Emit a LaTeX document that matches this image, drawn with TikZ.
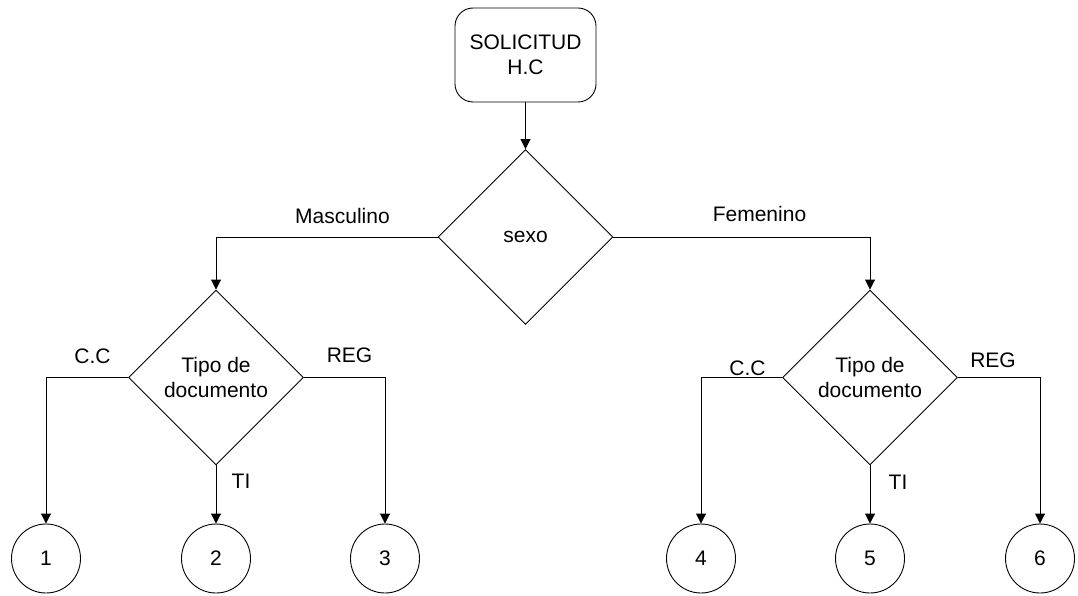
\documentclass[tikz,border=0pt]{standalone}
\usepackage{fontspec}
\setmainfont{Liberation Sans}
\usetikzlibrary{shapes.geometric,arrows.meta}
\begin{document}
\begin{tikzpicture}[x=1pt,y=-1pt,
  every node/.style={font=\fontsize{21}{25}\selectfont},
  base/.style={draw=black,line width=0.9pt},
  startbox/.style={base,rectangle,rounded corners=18pt,minimum width=141pt,minimum height=94pt,align=center,inner sep=0pt},
  decision/.style={base,diamond,minimum width=175pt,minimum height=175pt,inner sep=0pt,align=center},
  endpoint/.style={base,circle,minimum size=69pt,inner sep=0pt},
  flow/.style={line width=0.9pt,-{Triangle[length=10pt,width=10pt]}},
  lbl/.style={anchor=base,inner sep=0pt}]
\useasboundingbox (0,0) rectangle (1078,596);

% start and first decision
\node[startbox] (start) at (525.5,55) {SOLICITUD\\H.C};
\node[decision] (sexo) at (525.5,237) {sexo};

% document type decisions
\node[decision] (tipoM) at (216,377.5) {Tipo de\\documento};
\node[decision] (tipoF) at (870,377.5) {Tipo de\\documento};

% terminal circles
\node[endpoint] (c1) at (46,558.5) {1};
\node[endpoint] (c2) at (216,558.5) {2};
\node[endpoint] (c3) at (385,558.5) {3};
\node[endpoint] (c4) at (701,558.5) {4};
\node[endpoint] (c5) at (870,558.5) {5};
\node[endpoint] (c6) at (1040,558.5) {6};

% connectors
\draw[flow] (start) -- (sexo);
\draw[flow] (sexo.west) -| (tipoM.north);
\draw[flow] (sexo.east) -| (tipoF.north);
\draw[flow] (tipoM.west) -| (c1.north);
\draw[flow] (tipoM.south) -- (c2.north);
\draw[flow] (tipoM.east) -| (c3.north);
\draw[flow] (tipoF.west) -| (c4.north);
\draw[flow] (tipoF.south) -- (c5.north);
\draw[flow] (tipoF.east) -| (c6.north);

% branch labels
\node[lbl] (lmasc) at (342.5,223) {Masculino};
\node[lbl] (lfem) at (759.5,221) {Femenino};
\node[lbl] (lcc1) at (92.5,363) {C.C};
\node[lbl] (lreg1) at (349.5,362) {REG};
\node[lbl] (lti1) at (241,488) {TI};
\node[lbl] (lcc2) at (747.5,375) {C.C};
\node[lbl] (lreg2) at (993,367) {REG};
\node[lbl] (lti2) at (898,489) {TI};
\end{tikzpicture}
\end{document}
